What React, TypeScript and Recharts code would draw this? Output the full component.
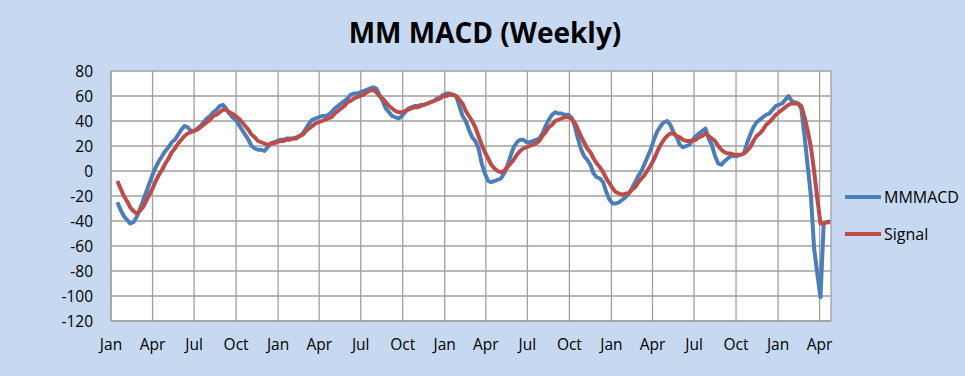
import React from "react";
import { LineChart, Line, XAxis, YAxis, CartesianGrid, Legend } from "recharts";

// weekly closes, first one is Fri 15 Jan 2016 (day 14 counted from 1 Jan 2016)
const FIRST_WEEK_DAY = 14;

const mmmacd = [
  -25, -31, -36, -39, -42, -41, -37, -31, -24, -17, -10, -3, 3, 8, 12, 16, 19, 23, 25, 29,
  33, 36, 35, 32, 32, 34, 36, 39, 42, 44, 47, 49, 52, 53, 50, 46, 43, 41, 37, 33,
  29, 25, 20, 18, 17, 17, 16, 19, 22, 23, 24, 25, 25, 26, 26, 26, 27, 28, 30, 34,
  38, 41, 42, 43, 44, 44, 45, 47, 50, 52, 54, 56, 58, 61, 62, 62, 63, 64, 65, 66,
  67, 66, 61, 56, 50, 47, 44, 43, 42, 44, 47, 50, 51, 52, 52, 53, 53, 54, 55, 56,
  58, 59, 61, 62, 62, 61, 60, 52, 44, 40, 33, 27, 24, 18, 6, -2, -8, -9, -8, -7,
  -6, -2, 4, 12, 19, 23, 25, 25, 23, 23, 24, 25, 26, 30, 36, 41, 45, 47, 46, 46,
  45, 45, 43, 37, 27, 18, 12, 9, 5, -2, -5, -6, -9, -17, -23, -26, -26, -25, -23, -21,
  -18, -14, -9, -4, 0, 6, 12, 18, 26, 32, 36, 39, 40, 37, 31, 27, 21, 19, 20, 21,
  25, 28, 30, 32, 34, 26, 21, 12, 6, 5, 8, 10, 12, 12, 12, 13, 14, 22, 29, 35,
  39, 41, 43, 45, 46, 49, 52, 53, 54, 57, 60, 56, 55, 54, 50, 28, 4, -20, -62, -82,
  -101, -42, -41, -40,
];

const signal = [
  -8, -14, -20, -24, -29, -32, -34, -32, -29, -24, -19, -14, -8, -3, 1, 6, 10, 15, 18, 22,
  25, 28, 30, 31, 32, 33, 35, 37, 39, 41, 44, 45, 47, 49, 49, 47, 46, 44, 42, 39,
  36, 33, 29, 27, 24, 23, 22, 21, 22, 22, 23, 24, 24, 25, 25, 26, 26, 28, 29, 32,
  34, 36, 38, 39, 40, 41, 42, 43, 46, 48, 50, 52, 55, 56, 58, 59, 60, 61, 63, 64,
  65, 63, 60, 58, 55, 52, 50, 48, 47, 47, 48, 49, 50, 51, 51, 52, 53, 54, 55, 56,
  57, 58, 60, 60, 61, 61, 60, 57, 54, 48, 44, 40, 35, 28, 21, 15, 10, 5, 2, 0,
  -1, 0, 3, 6, 9, 13, 16, 18, 19, 20, 21, 22, 24, 28, 31, 35, 37, 40, 41, 42,
  43, 43, 42, 39, 34, 28, 23, 18, 15, 10, 6, 3, -1, -6, -10, -14, -17, -18, -19, -18,
  -18, -15, -13, -9, -6, -3, 1, 5, 10, 16, 21, 25, 28, 30, 30, 28, 27, 25, 24, 24,
  24, 25, 27, 28, 30, 28, 26, 24, 20, 17, 15, 14, 14, 13, 13, 13, 14, 16, 19, 24,
  28, 30, 33, 37, 39, 42, 45, 47, 49, 51, 53, 54, 54, 54, 52, 43, 32, 19, 0, -22,
  -42, -42, -41, -41,
];

// quarter starts, in days since 1 Jan 2016
const tickDays = [0, 91, 182, 274, 366, 456, 547, 639, 731, 821, 912, 1004, 1096, 1186, 1277, 1369, 1461, 1552];
const tickLabels = ["Jan", "Apr", "Jul", "Oct", "Jan", "Apr", "Jul", "Oct", "Jan", "Apr", "Jul", "Oct", "Jan", "Apr", "Jul", "Oct", "Jan", "Apr"];
const yTicks = [-120, -100, -80, -60, -40, -20, 0, 20, 40, 60, 80];

const data = mmmacd.map((v, i) => ({
  day: FIRST_WEEK_DAY + 7 * i,
  MMMACD: v,
  Signal: signal[i],
}));

const FONT = "'Open Sans', sans-serif";
const BLUE = "#4A7EBB";
const RED = "#BE4B48";
const GRID = "#a0a0a0";

const LegendBox = (props: any) => (
  <div style={{ fontFamily: FONT, fontSize: 16, color: "#000" }}>
    {props.payload.map((p: any) => (
      <div key={p.value} style={{ display: "flex", alignItems: "center", height: 37 }}>
        <div style={{ width: 36, height: 4, background: p.color }} />
        <span style={{ marginLeft: 3, lineHeight: "16px" }}>{p.value}</span>
      </div>
    ))}
  </div>
);

const App = () => {
  return (
    <div
      style={{
        position: "absolute",
        left: 0,
        top: 0,
        width: 965,
        height: 376,
        background: "#C6D9F1",
        fontFamily: FONT,
      }}
    >
      <div
        style={{
          position: "absolute",
          left: 0,
          top: 18,
          width: 970,
          textAlign: "center",
          fontSize: 28,
          lineHeight: "28px",
          fontWeight: "bold",
          color: "#000",
        }}
      >
        MM MACD (Weekly)
      </div>
      <LineChart width={965} height={376} data={data} margin={{ top: 71, right: 134, bottom: 0, left: 0 }}>
        <CartesianGrid stroke={GRID} strokeWidth={1.3} fill="#fff" />
        <XAxis
          dataKey="day"
          type="number"
          domain={[0, 1577]}
          ticks={tickDays}
          interval={0}
          tickFormatter={(d: number) => tickLabels[tickDays.indexOf(d)]}
          height={55}
          tickSize={0}
          tickMargin={18}
          axisLine={{ stroke: GRID, strokeWidth: 1.3 }}
          tick={{ fill: "#000", fontSize: 15.5, fontFamily: FONT }}
        />
        <YAxis
          domain={[-120, 80]}
          ticks={yTicks}
          interval={0}
          width={111}
          tickSize={0}
          tickMargin={18}
          axisLine={{ stroke: GRID, strokeWidth: 1.3 }}
          tick={{ fill: "#000", fontSize: 15.5, fontFamily: FONT }}
        />
        <Legend
          layout="vertical"
          align="center"
          verticalAlign="middle"
          content={LegendBox}
          wrapperStyle={{ position: "absolute", left: 845, top: 178, width: 120 }}
        />
        <Line
          type="linear"
          dataKey="MMMACD"
          stroke={BLUE}
          strokeWidth={4}
          dot={false}
          strokeLinejoin="round"
          isAnimationActive={false}
        />
        <Line
          type="linear"
          dataKey="Signal"
          stroke={RED}
          strokeWidth={4}
          dot={false}
          strokeLinejoin="round"
          isAnimationActive={false}
        />
      </LineChart>
    </div>
  );
};

export default App;
